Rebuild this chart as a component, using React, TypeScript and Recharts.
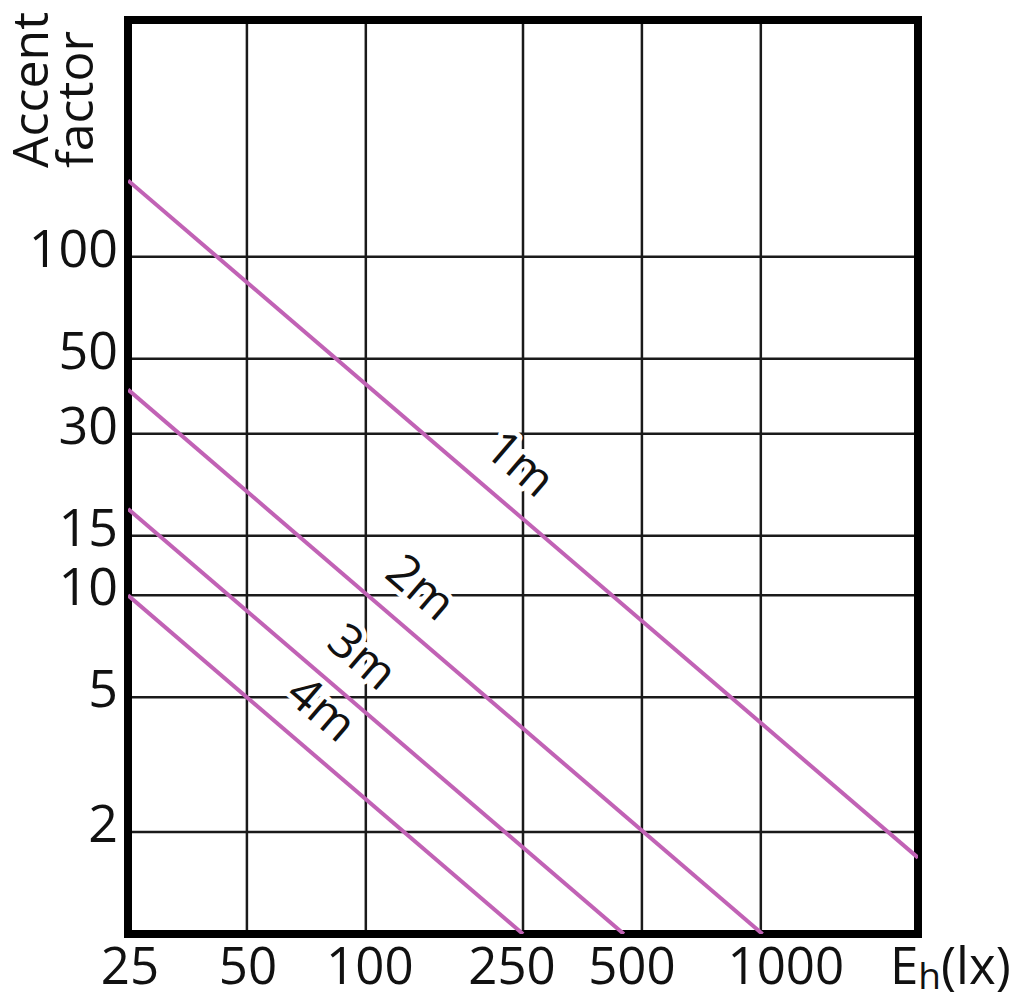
import { ComposedChart, Line, Scatter, XAxis, YAxis, CartesianGrid, ReferenceArea } from "recharts"

// illuminance E_h (lx) ticks and accent factor ticks
const xTicks = [25, 50, 100, 250, 500, 1000, 2500]
const yTicks = [2, 5, 10, 15, 30, 50, 100]

// each distance is a straight line on the log-log grid, read at its two ends
const line1m = [
  { e: 25, a: 168 },
  { e: 2500, a: 1.68 },
]
const line2m = [
  { e: 25, a: 40.5 },
  { e: 1010, a: 1 },
]
const line3m = [
  { e: 25, a: 18 },
  { e: 450, a: 1 },
]
const line4m = [
  { e: 25, a: 10 },
  { e: 250, a: 1 },
]

// where each curve's name sits along its line
const curveLabels = [
  { e: 248, a: 16.9, name: "1m" },
  { e: 139, a: 7.3, name: "2m" },
  { e: 99, a: 4.55, name: "3m" },
  { e: 78, a: 3.2, name: "4m" },
]

const FONT = "'Open Sans', 'Noto Sans', sans-serif"
const LINE_COLOR = "#c162b5"
const INK = "#111"

// hand nudges of the x tick labels as in the original
const xNudge: Record<number, number> = { 25: 2, 50: 1, 100: 4, 250: -11, 500: -10, 1000: 25 }

const XTick = (props: any) => {
  const { x, y, payload } = props
  if (payload.value === 2500) {
    return (
      <text x={x - 28} y={y + 50} textAnchor="start" fontSize={51} fontFamily={FONT} fill={INK}>
        <tspan fill={INK}>E</tspan>
        <tspan fill={INK} fontSize={37} dy={5}>h</tspan>
        <tspan fill={INK} dy={-5}>(lx)</tspan>
      </text>
    )
  }
  return (
    <text x={x + (xNudge[payload.value] ?? 0)} y={y + 50} textAnchor="middle" fontSize={51} fontFamily={FONT} fill={INK}>
      {payload.value}
    </text>
  )
}

const YTick = (props: any) => {
  const { x, y, payload } = props
  return (
    <text x={x + 2} y={y + 10} textAnchor="end" fontSize={52} fontFamily={FONT} fill={INK}>
      {payload.value}
    </text>
  )
}

const AxisTitle = () => (
  <g fontSize={50} fontFamily={FONT} fill={INK}>
    <text transform="translate(40 160) rotate(-90)">Accent</text>
    <text transform="translate(85 160) rotate(-90)">factor</text>
  </g>
)

const CurveLabel = (props: any) => {
  const { cx, cy, payload } = props
  const x = cx
  const y = cy - 56
  return (
    <text
      x={x}
      y={y}
      transform={`rotate(40.6 ${x} ${y})`}
      textAnchor="middle"
      dominantBaseline="central"
      fontSize={48}
      fontFamily={FONT}
      fill={INK}
      stroke="#fff"
      strokeWidth={10}
      strokeLinejoin="round"
      paintOrder="stroke"
    >
      {payload.name}
    </text>
  )
}

export default function App() {
  return (
    <ComposedChart width={1011} height={992} margin={{ top: 12, right: 101, bottom: 0, left: 0 }}>
      <CartesianGrid stroke="#1a1a1a" strokeWidth={2.5} />
      <XAxis
        type="number"
        dataKey="e"
        scale="log"
        domain={[25, 2500]}
        ticks={xTicks}
        allowDataOverflow
        axisLine={false}
        tickLine={false}
        tickSize={0}
        tickMargin={0}
        height={66}
        tick={<XTick />}
        interval={0}
      />
      <YAxis
        type="number"
        dataKey="a"
        scale="log"
        domain={[1, 500]}
        ticks={yTicks}
        allowDataOverflow
        axisLine={false}
        tickLine={false}
        tickSize={0}
        tickMargin={12}
        width={120}
        tick={<YTick />}
        interval={0}
        label={<AxisTitle />}
      />
      <Line data={line1m} dataKey="a" type="linear" stroke={LINE_COLOR} strokeWidth={4} dot={false} isAnimationActive={false} />
      <Line data={line2m} dataKey="a" type="linear" stroke={LINE_COLOR} strokeWidth={4} dot={false} isAnimationActive={false} />
      <Line data={line3m} dataKey="a" type="linear" stroke={LINE_COLOR} strokeWidth={4} dot={false} isAnimationActive={false} />
      <Line data={line4m} dataKey="a" type="linear" stroke={LINE_COLOR} strokeWidth={4} dot={false} isAnimationActive={false} />
      <Scatter data={curveLabels} dataKey="a" shape={<CurveLabel />} isAnimationActive={false} />
      <ReferenceArea x1={25} x2={2500} y1={1} y2={500} fill="none" stroke="#000" strokeWidth={8} ifOverflow="visible" />
    </ComposedChart>
  )
}
